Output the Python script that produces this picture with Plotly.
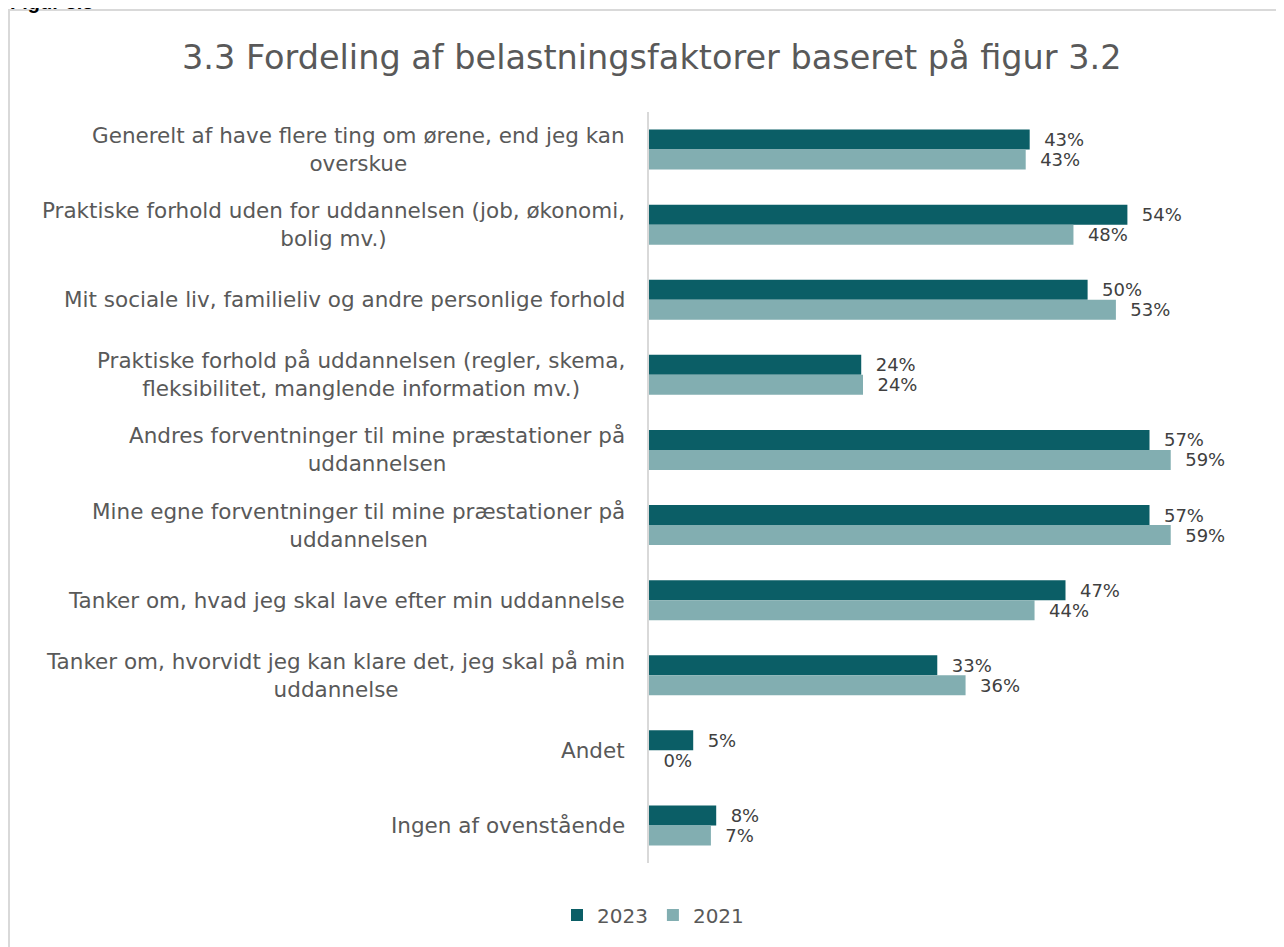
import plotly.graph_objects as go

categories = [
    "Generelt af have flere ting om ørene, end jeg kan<br>overskue",
    "Praktiske forhold uden for uddannelsen (job, økonomi,<br>bolig mv.)",
    "Mit sociale liv, familieliv og andre personlige forhold",
    "Praktiske forhold på uddannelsen (regler, skema,<br>fleksibilitet, manglende information mv.)",
    "Andres forventninger til mine præstationer på<br>uddannelsen",
    "Mine egne forventninger til mine præstationer på<br>uddannelsen",
    "Tanker om, hvad jeg skal lave efter min uddannelse",
    "Tanker om, hvorvidt jeg kan klare det, jeg skal på min<br>uddannelse",
    "Andet",
    "Ingen af ovenstående",
]
values_2023 = [43.05, 54.1, 49.6, 24.0, 56.6, 56.6, 47.1, 32.6, 5.0, 7.6]
values_2021 = [42.6, 48.0, 52.8, 24.2, 59.0, 59.0, 43.6, 35.8, 0.0, 7.0]
series_names = ["2023", "2021"]

C_DARK = "#0b5e66"
C_LIGHT = "#82aeb1"
FONT = "DejaVu Sans"
OFF = 8  # page body margin
W, H = 1284 - OFF, 947 - OFF
# page-pixel geometry of plot area
P_LEFT, P_RIGHT, P_TOP, P_BOTTOM = 649, 1268, 112, 863
L = P_LEFT - OFF
R = W - (P_RIGHT - OFF)
T = P_TOP - OFF
B = H - (P_BOTTOM - OFF)
plot_w = W - L - R
plot_h = H - T - B

fig = go.Figure()
for name, vals, col in [(series_names[0], values_2023, C_DARK), (series_names[1], values_2021, C_LIGHT)]:
    fig.add_trace(go.Bar(
        y=categories, x=vals, name=name, orientation="h",
        marker=dict(color=col, line=dict(width=0)),
        text=[f"{v:.0f}%" for v in vals],
        texttemplate="  %{text}",
        textposition="outside", cliponaxis=False, constraintext="none",
        textfont=dict(family=FONT, size=18, color="#404040"),
    ))

def px_x(px):
    return (px - P_LEFT) / plot_w

def px_y(py):
    return (P_BOTTOM - py) / plot_h

annotations = [
    dict(text="3.3 Fordeling af belastningsfaktorer baseret på figur 3.2",
         xref="paper", yref="paper", x=px_x(652), y=px_y(57),
         xanchor="center", yanchor="middle", showarrow=False,
         font=dict(family=FONT, size=33.5, color="#595959")),
    dict(text="<b>Figur 3.3</b>", xref="paper", yref="paper",
         x=px_x(8), y=px_y(15), xanchor="left", yanchor="bottom", showarrow=False,
         font=dict(family="Liberation Sans", size=20, color="#000000")),
]
for c in categories:
    annotations.append(dict(
        text=c, xref="paper", yref="y", x=px_x(627), y=c,
        xanchor="right", yanchor="middle", align="center", showarrow=False,
        font=dict(family=FONT, size=21.5, color="#595959"),
    ))

fig.update_layout(
    width=W, height=H,
    margin=dict(l=L, r=R, t=T, b=B),
    paper_bgcolor="white", plot_bgcolor="white",
    barmode="group", bargap=0.467, bargroupgap=0,
    font=dict(family=FONT, color="#595959"),
    showlegend=True,
    legend=dict(orientation="h", x=px_x(653), y=px_y(915), xanchor="center", yanchor="middle",
                font=dict(family=FONT, size=20, color="#595959"), traceorder="normal",
                itemwidth=30),
    xaxis=dict(range=[0, 70], showgrid=False, zeroline=False, showticklabels=False,
               showline=False, fixedrange=True),
    yaxis=dict(autorange="reversed", showticklabels=False, showgrid=False,
               showline=True, linecolor="#d9d9d9", linewidth=2, ticks=""),
    annotations=annotations,
    shapes=[dict(type="rect", xref="paper", yref="paper",
                 x0=px_x(9), x1=px_x(1300), y0=px_y(10), y1=px_y(960),
                 line=dict(color="#d9d9d9", width=2), fillcolor="rgba(0,0,0,0)", layer="below")],
)

fig.write_html("out.html")
